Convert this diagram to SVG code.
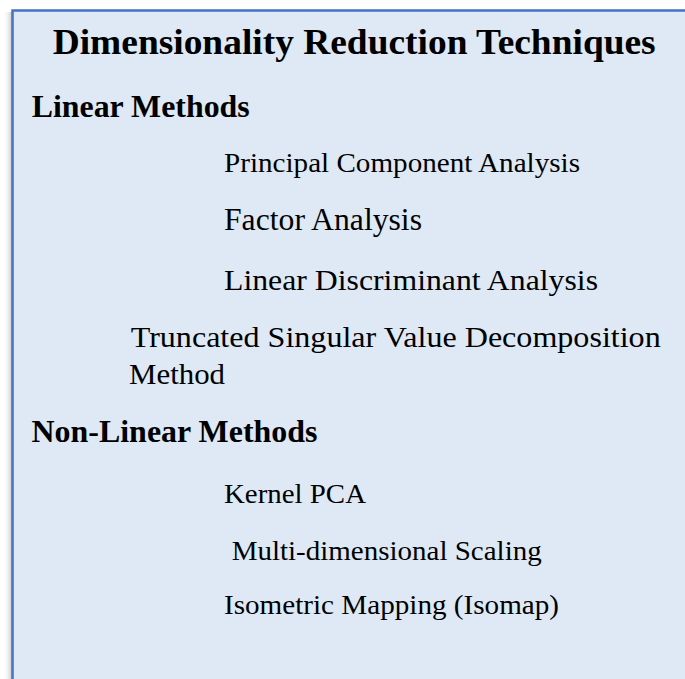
<svg xmlns="http://www.w3.org/2000/svg" width="685" height="679" viewBox="0 0 685 679">
  <defs>
    <linearGradient id="shadowL" x1="0" y1="0" x2="1" y2="0">
      <stop offset="0" stop-color="#ffffff" stop-opacity="0"/>
      <stop offset="1" stop-color="#c8c8c8" stop-opacity="1"/>
    </linearGradient>
    <style>
      .t { font-family: "Liberation Serif", "Times New Roman", serif; fill: #000; }
      .b { font-weight: bold; }
    </style>
  </defs>
  <rect x="0" y="0" width="685" height="679" fill="#ffffff"/>
  <g id="panel">
    <rect x="3" y="12" width="9" height="680" fill="url(#shadowL)"/>
    <rect x="12.5" y="10.5" width="700" height="700" fill="#DEE9F5" stroke="#4472C4" stroke-width="2.5"/>
  </g>
  <g id="title">
    <text class="t b" x="52.7" y="54" font-size="36" textLength="603" lengthAdjust="spacingAndGlyphs">Dimensionality Reduction Techniques</text>
  </g>
  <g id="linear-methods">
    <text class="t b" x="31.7" y="117" font-size="31" textLength="218" lengthAdjust="spacingAndGlyphs">Linear Methods</text>
  </g>
  <g id="pca">
    <text class="t" x="224" y="172" font-size="28" textLength="356" lengthAdjust="spacingAndGlyphs">Principal Component Analysis</text>
  </g>
  <g id="factor-analysis">
    <text class="t" x="224" y="230" font-size="31" textLength="198" lengthAdjust="spacingAndGlyphs">Factor Analysis</text>
  </g>
  <g id="lda">
    <text class="t" x="224" y="290" font-size="30" textLength="374" lengthAdjust="spacingAndGlyphs">Linear Discriminant Analysis</text>
  </g>
  <g id="tsvd">
    <text class="t" x="130.7" y="346.7" font-size="30" textLength="530" lengthAdjust="spacingAndGlyphs">Truncated Singular Value Decomposition</text>
    <text class="t" x="129" y="384" font-size="30" textLength="96" lengthAdjust="spacingAndGlyphs">Method</text>
  </g>
  <g id="non-linear-methods">
    <text class="t b" x="31.5" y="442" font-size="31" textLength="286" lengthAdjust="spacingAndGlyphs">Non-Linear Methods</text>
  </g>
  <g id="kernel-pca">
    <text class="t" x="224" y="503" font-size="27" textLength="142" lengthAdjust="spacingAndGlyphs">Kernel PCA</text>
  </g>
  <g id="mds">
    <text class="t" x="231.7" y="560" font-size="27" textLength="310" lengthAdjust="spacingAndGlyphs">Multi-dimensional Scaling</text>
  </g>
  <g id="isomap">
    <text class="t" x="224" y="614" font-size="28" textLength="335" lengthAdjust="spacingAndGlyphs">Isometric Mapping (Isomap)</text>
  </g>
  <g id="connectors"/>
</svg>
